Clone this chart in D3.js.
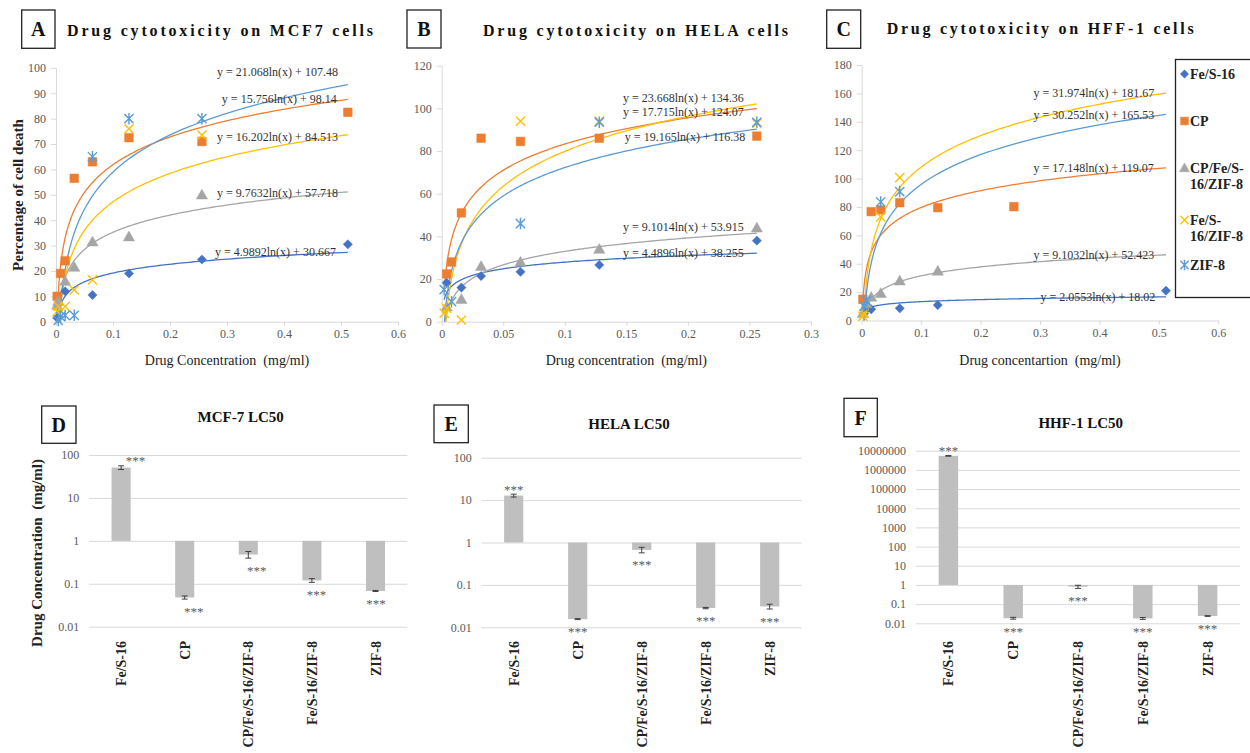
<!DOCTYPE html>
<html>
<head>
<meta charset="utf-8">
<script src="https://cdn.jsdelivr.net/npm/d3@7"></script>
<style>
    body { margin: 0; background: #fff; }
    svg text { font-family: "Liberation Serif", "Times New Roman", serif; }
</style>
</head>
<body>
<svg id="chart" width="1250" height="753"></svg>
<script>
// ---------- data ----------
const seriesNames = ['Fe/S-16', 'CP', 'CP/Fe/S-16/ZIF-8', 'Fe/S-16/ZIF-8', 'ZIF-8'];
const legendLines = [['Fe/S-16'], ['CP'], ['CP/Fe/S-', '16/ZIF-8'], ['Fe/S-', '16/ZIF-8'], ['ZIF-8']];

// A: MCF7 (% cell death)
const mcf7Conc = [0.002, 0.004, 0.008, 0.016, 0.032, 0.064, 0.128, 0.256, 0.512];
const mcf7FeS16 = [1.5, null, null, 12, null, 10.5, 19, 24.5, 30.5];
const mcf7CP = [10, null, 19, 24, 56.5, 63, 72.5, 71, 82.5];
const mcf7CPFeSZIF = [6.5, 8, null, 16, 21.5, 31.5, 33.5, 50, null];
const mcf7FeSZIF = [4, 6, null, 6, 12.5, 16.5, 76, 73.5, null];
const mcf7ZIF = [null, 0.5, 2, 2.5, 2.5, 65, 80, 80, null];
const mcf7Slope = [4.9892, 15.756, 9.7632, 16.202, 21.068];
const mcf7Intercept = [30.667, 98.14, 57.718, 84.513, 107.48];
const mcf7XTicks = [0, 0.1, 0.2, 0.3, 0.4, 0.5, 0.6];
const mcf7YTicks = [0, 10, 20, 30, 40, 50, 60, 70, 80, 90, 100];

// B: HELA
const helaConc = [0.002, 0.004, 0.008, 0.016, 0.032, 0.064, 0.128, 0.256];
const helaFeS16 = [null, 18.3, null, 16, 21.4, 23.4, 26.6, 38];
const helaCP = [null, 22.4, 28, 51, 86, 84.5, 86, 87];
const helaCPFeSZIF = [null, 7, null, 10.5, 26, 28, 34, 44];
const helaFeSZIF = [4, 6.3, null, 0.8, null, 94, 94, 93];
const helaZIF = [15, null, 9.4, null, null, 46, 93.5, 93.5];
const helaSlope = [4.4896, 17.715, 9.1014, 23.668, 19.165];
const helaIntercept = [38.255, 124.07, 53.915, 134.36, 116.38];
const helaXTicks = [0, 0.05, 0.1, 0.15, 0.2, 0.25, 0.3];
const helaYTicks = [0, 20, 40, 60, 80, 100, 120];

// C: HFF-1
const hffConc = [0.002, 0.004, 0.008, 0.016, 0.032, 0.064, 0.128, 0.256, 0.512];
const hffFeS16 = [null, 5, 8, 7.9, null, 8.6, 10.9, null, 21];
const hffCP = [15, null, null, 76.7, 77.9, 83, 79.5, 80.2, null];
const hffCPFeSZIF = [5, null, 12, 16.5, 19.2, 28, 34.9, null, null];
const hffFeSZIF = [3, 5, null, null, 73, 100.6, null, null, null];
const hffZIF = [null, 10, 14, null, 83.5, 90.8, null, null, null];
const hffSlope = [2.0553, 17.148, 9.1032, 31.974, 30.252];
const hffIntercept = [18.02, 119.07, 52.423, 181.67, 165.53];
const hffXTicks = [0, 0.1, 0.2, 0.3, 0.4, 0.5, 0.6];
const hffYTicks = [0, 20, 40, 60, 80, 100, 120, 140, 160, 180];

// D-F: LC50 (mg/ml), log scale
const barCategories = ['Fe/S-16', 'CP', 'CP/Fe/S-16/ZIF-8', 'Fe/S-16/ZIF-8', 'ZIF-8'];
const lc50Mcf7 = [51, 0.048, 0.48, 0.12, 0.068];
const lc50Mcf7Err = [5, 0.004, 0.085, 0.012, 0.002];
const lc50Hela = [12.8, 0.0156, 0.67, 0.0284, 0.031];
const lc50HelaErr = [1, 0.0004, 0.1, 0.001, 0.004];
const lc50Hhf = [5.4e6, 0.0184, 0.81, 0.018, 0.024];
const lc50HhfErr = [2.5e5, 0.002, 0.15, 0.002, 0.001];
const lc50Ticks = [0.01, 0.1, 1, 10, 100];
const lc50HhfTicks = [0.01, 0.1, 1, 10, 100, 1000, 10000, 100000, 1000000, 10000000];
const significance = '***';

// ---------- style / layout ----------
const seriesColors = ['#4472C4', '#ED7D31', '#A5A5A5', '#FFC000', '#5B9BD5'];
const seriesMarker = ['diamond', 'square', 'triangle', 'cross', 'star'];
const axisGray = '#D9D9D9';
const labelGray = '#595959';
const serif = '"Liberation Serif", "Times New Roman", serif';

const scatterPanels = [
    {
        letter: 'A', title: 'Drug cytotoxicity on MCF7 cells', xLabel: 'Drug Concentration  (mg/ml)',
        yLabel: 'Percentage of cell death',
        conc: mcf7Conc, series: [mcf7FeS16, mcf7CP, mcf7CPFeSZIF, mcf7FeSZIF, mcf7ZIF],
        slope: mcf7Slope, intercept: mcf7Intercept, xTicks: mcf7XTicks, yTicks: mcf7YTicks,
        box: [21.7, 10, 33.3, 38.3], titleX: 67, titleW: 306, titleY: 36,
        plot: { l: 56, r: 398, t: 67.9, b: 321.7 },
        eqPos: [[0.279, 27.5], [0.291, 87.8], [0.2825, 50.7], [0.2825, 72.8], [0.2825, 98.4]]
    },
    {
        letter: 'B', title: 'Drug cytotoxicity on HELA cells', xLabel: 'Drug concentration  (mg/ml)',
        conc: helaConc, series: [helaFeS16, helaCP, helaCPFeSZIF, helaFeSZIF, helaZIF],
        slope: helaSlope, intercept: helaIntercept, xTicks: helaXTicks, yTicks: helaYTicks,
        box: [407, 10, 34, 38], titleX: 483, titleW: 305, titleY: 36,
        plot: { l: 441.7, r: 811, t: 65.7, b: 321.7 },
        eqPos: [[0.1472, 32.3], [0.1472, 98.2], [0.1472, 44.5], [0.1472, 105], [0.1488, 86.7]]
    },
    {
        letter: 'C', title: 'Drug cytotoxicity on HFF-1 cells', xLabel: 'Drug concentartion  (mg/ml)',
        conc: hffConc, series: [hffFeS16, hffCP, hffCPFeSZIF, hffFeSZIF, hffZIF],
        slope: hffSlope, intercept: hffIntercept, xTicks: hffXTicks, yTicks: hffYTicks,
        box: [826.7, 10, 34, 38.3], titleX: 886.7, titleW: 307, titleY: 34,
        plot: { l: 861.7, r: 1218.3, t: 65, b: 320.5 },
        eqPos: [[0.3007, 16.3], [0.2889, 107.7], [0.2889, 46.2], [0.2889, 160.1], [0.2889, 144.8]]
    }
];

const barPanels = [
    {
        letter: 'D', title: 'MCF-7 LC50', values: lc50Mcf7, errors: lc50Mcf7Err, yTicks: lc50Ticks,
        yTitle: 'Drug Concentration  (mg/ml)',
        box: [41.7, 406, 34.3, 37.3], titleX: 240.7, titleY: 422,
        plot: { l: 89.3, r: 407.3, t: 455, b: 626.7 }, starDx: [14.5, 9, 8.5, 4.5, 0.5]
    },
    {
        letter: 'E', title: 'HELA LC50', values: lc50Hela, errors: lc50HelaErr, yTicks: lc50Ticks,
        box: [434, 405, 34.3, 37.7], titleX: 629, titleY: 429,
        plot: { l: 481.7, r: 801.7, t: 457.7, b: 627.3 }, starDx: [0, 0, 0, 0, 0]
    },
    {
        letter: 'F', title: 'HHF-1 LC50', values: lc50Hhf, errors: lc50HhfErr, yTicks: lc50HhfTicks,
        box: [844, 398.3, 33.3, 38.4], titleX: 1080.7, titleY: 428,
        plot: { l: 916, r: 1240, t: 450.7, b: 623.3 }, starDx: [0, 0, 0, 0, 0]
    }
];

const svg = d3.select('#chart').attr('font-family', serif);

const markerPath = {
    diamond: r => `M0,${-r}L${r},0L0,${r}L${-r},0Z`,
    square: r => `M${-r},${-r}h${2 * r}v${2 * r}h${-2 * r}Z`,
    triangle: r => `M0,${-r}L${r},${r * 0.75}L${-r},${r * 0.75}Z`,
    cross: r => `M${-r},${-r}L${r},${r}M${-r},${r}L${r},${-r}`,
    star: r => `M${-r},${-r}L${r},${r}M${-r},${r}L${r},${-r}M0,${-r * 1.25}L0,${r * 1.25}`
};
const markerRadius = { diamond: 4.6, square: 4.3, triangle: 5.6, cross: 4.6, star: 4.6 };

function drawMarker(g, type, color, cx, cy, scale = 1) {
    const filled = type === 'diamond' || type === 'square' || type === 'triangle';
    g.append('path')
        .attr('d', markerPath[type](markerRadius[type] * scale))
        .attr('transform', `translate(${cx},${cy})`)
        .attr('fill', filled ? color : 'none')
        .attr('stroke', color)
        .attr('stroke-width', filled ? 0.5 : 1.4);
}

function panelBox(box, letter) {
    svg.append('rect')
        .attr('x', box[0]).attr('y', box[1])
        .attr('width', box[2]).attr('height', box[3])
        .attr('fill', 'none').attr('stroke', '#222').attr('stroke-width', 1.3);
    svg.append('text')
        .attr('x', box[0] + box[2] / 2).attr('y', box[1] + box[3] / 2 + 7)
        .attr('text-anchor', 'middle')
        .attr('font-size', '20px').attr('font-weight', 'bold').attr('fill', '#111')
        .text(letter);
}

function styleAxis(axisG) {
    axisG.attr('font-family', serif);
    axisG.select('.domain').attr('stroke', axisGray);
    axisG.selectAll('.tick line').attr('stroke', axisGray);
    axisG.selectAll('.tick text')
        .attr('fill', labelGray)
        .attr('font-size', '12px');
}

// ---------- scatter panels A-C ----------
scatterPanels.forEach((p, pi) => {
    const g = svg.append('g');
    const x = d3.scaleLinear().domain([0, p.xTicks[p.xTicks.length - 1]]).range([p.plot.l, p.plot.r]);
    const y = d3.scaleLinear().domain([0, p.yTicks[p.yTicks.length - 1]]).range([p.plot.b, p.plot.t]);

    panelBox(p.box, p.letter);
    g.append('text')
        .attr('x', p.titleX).attr('y', p.titleY)
        .attr('font-size', '16px').attr('font-weight', 'bold').attr('fill', '#111')
        .attr('textLength', p.titleW).attr('lengthAdjust', 'spacing')
        .text(p.title);

    const xAxis = g.append('g')
        .attr('transform', `translate(0,${p.plot.b})`)
        .call(d3.axisBottom(x).tickValues(p.xTicks).tickSizeInner(4).tickSizeOuter(0)
            .tickPadding(4).tickFormat(d => String(d)));
    styleAxis(xAxis);

    const yAxis = g.append('g')
        .attr('transform', `translate(${p.plot.l},0)`)
        .call(d3.axisLeft(y).tickValues(p.yTicks).tickSizeInner(5).tickSizeOuter(0)
            .tickPadding(5).tickFormat(d => String(d)));
    styleAxis(yAxis);

    g.append('text')
        .attr('x', (p.plot.l + p.plot.r) / 2).attr('y', 365)
        .attr('text-anchor', 'middle')
        .attr('font-size', '14px').attr('fill', '#222')
        .attr('xml:space', 'preserve')
        .text(p.xLabel);

    if (p.yLabel) {
        g.append('text')
            .attr('transform', `translate(23,195) rotate(-90)`)
            .attr('text-anchor', 'middle')
            .attr('font-size', '15px').attr('font-weight', 'bold').attr('fill', '#222')
            .text(p.yLabel);
    }

    // trendlines (logarithmic fits from the equations shown)
    const clipId = 'clip' + pi;
    svg.append('clipPath').attr('id', clipId)
        .append('rect')
        .attr('x', p.plot.l).attr('y', p.plot.t - 30)
        .attr('width', p.plot.r - p.plot.l).attr('height', p.plot.b - p.plot.t + 30);

    const x0 = p.conc[0], x1 = p.conc[p.conc.length - 1];
    const xs = d3.range(0, 241).map(i => x0 * Math.pow(x1 / x0, i / 240));

    const trends = g.append('g').attr('clip-path', `url(#${clipId})`);
    p.series.forEach((vals, si) => {
        const line = d3.line()
            .x(d => x(d))
            .y(d => y(p.slope[si] * Math.log(d) + p.intercept[si]));
        trends.append('path')
            .attr('d', line(xs))
            .attr('fill', 'none')
            .attr('stroke', seriesColors[si])
            .attr('stroke-width', 1.3);
    });

    // equation labels
    p.series.forEach((vals, si) => {
        g.append('text')
            .attr('x', x(p.eqPos[si][0])).attr('y', y(p.eqPos[si][1]) + 4)
            .attr('font-size', '12px').attr('fill', '#333')
            .text(`y = ${p.slope[si]}ln(x) + ${p.intercept[si]}`);
    });

    // markers
    p.series.forEach((vals, si) => {
        vals.forEach((v, i) => {
            if (v === null) return;
            drawMarker(g, seriesMarker[si], seriesColors[si], x(p.conc[i]), y(v));
        });
    });
});

// legend
const legend = svg.append('g');
legend.append('rect')
    .attr('x', 1175.5).attr('y', 59.5).attr('width', 90).attr('height', 238)
    .attr('fill', '#fff').attr('stroke', '#222').attr('stroke-width', 1.3);
const legendY = [74, 121, 168, 220, 265];
seriesNames.forEach((name, i) => {
    drawMarker(legend, seriesMarker[i], seriesColors[i], 1184.5, legendY[i], 0.9);
    legendLines[i].forEach((ln, k) => {
        legend.append('text')
            .attr('x', 1190).attr('y', legendY[i] + 5 + k * 16)
            .attr('font-size', '14px').attr('font-weight', 'bold').attr('fill', '#222')
            .text(ln);
    });
});

// ---------- LC50 bar panels D-F ----------
barPanels.forEach(p => {
    const g = svg.append('g');
    const x = d3.scaleBand().domain(barCategories)
        .range([p.plot.l, p.plot.r]).paddingInner(0.7).paddingOuter(0.35);
    const y = d3.scaleLog()
        .domain([p.yTicks[0], p.yTicks[p.yTicks.length - 1]])
        .range([p.plot.b, p.plot.t]);

    panelBox(p.box, p.letter);
    g.append('text')
        .attr('x', p.titleX).attr('y', p.titleY)
        .attr('text-anchor', 'middle')
        .attr('font-size', '15px').attr('font-weight', 'bold').attr('fill', '#111')
        .text(p.title);

    const grid = g.append('g')
        .attr('transform', `translate(${p.plot.l},0)`)
        .call(d3.axisLeft(y).tickValues(p.yTicks).tickSizeInner(-(p.plot.r - p.plot.l))
            .tickSizeOuter(0).tickPadding(10).tickFormat(d => String(d)));
    grid.select('.domain').remove();
    styleAxis(grid);

    if (p.yTitle) {
        g.append('text')
            .attr('transform', `translate(42,553) rotate(-90)`)
            .attr('text-anchor', 'middle')
            .attr('font-size', '15px').attr('font-weight', 'bold').attr('fill', '#222')
            .attr('xml:space', 'preserve')
            .text(p.yTitle);
    }

    const base = y(1);
    g.selectAll('rect.bar')
        .data(p.values)
        .join('rect')
        .attr('class', 'bar')
        .attr('x', (d, i) => x(barCategories[i]))
        .attr('width', x.bandwidth())
        .attr('y', d => Math.min(y(d), base))
        .attr('height', d => Math.abs(y(d) - base))
        .attr('fill', '#BFBFBF');

    // error bars
    p.values.forEach((v, i) => {
        const cx = x(barCategories[i]) + x.bandwidth() / 2;
        const hi = y(v + p.errors[i]), lo = y(Math.max(v - p.errors[i], 1e-9));
        const eg = g.append('g').attr('stroke', '#404040').attr('stroke-width', 1);
        eg.append('line').attr('x1', cx).attr('x2', cx).attr('y1', hi).attr('y2', lo);
        eg.append('line').attr('x1', cx - 3).attr('x2', cx + 3).attr('y1', hi).attr('y2', hi);
        eg.append('line').attr('x1', cx - 3).attr('x2', cx + 3).attr('y1', lo).attr('y2', lo);

        // significance stars
        const starCenter = v > 1 ? hi - 7 : lo + 10;
        g.append('text')
            .attr('x', cx + p.starDx[i]).attr('y', starCenter + 6.5)
            .attr('text-anchor', 'middle')
            .attr('font-size', '13px').attr('fill', labelGray)
            .text(significance);
    });

    // rotated category labels
    g.selectAll('text.cat')
        .data(barCategories)
        .join('text')
        .attr('class', 'cat')
        .attr('transform', d => `translate(${x(d) + x.bandwidth() / 2 + 5},641) rotate(-90)`)
        .attr('text-anchor', 'end')
        .attr('font-size', '14px').attr('font-weight', 'bold').attr('fill', '#222')
        .text(d => d);
});
</script>
</body>
</html>
